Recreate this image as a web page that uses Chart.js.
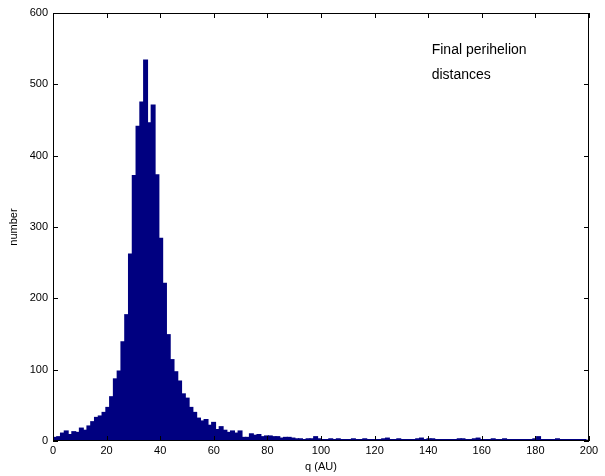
<!DOCTYPE html>
<html lang="en">
<head>
    <meta charset="UTF-8">
    <title>Final perihelion distances</title>
    <script src="https://cdn.jsdelivr.net/npm/chart.js"></script>
    <style>
        body { margin: 0; background: #fff; }
        #wrap { width: 605px; height: 476px; }
    </style>
</head>
<body>
<div id="wrap"><canvas id="histCanvas" width="605" height="476"></canvas></div>

<script>
    // histogram of final perihelion distance q (AU), bin width ~1.41 AU starting at 0
    const binWidth = 1.41;
    const counts = [
        5, 6, 11, 14, 9, 13, 12, 18, 15, 21,
        27, 33, 35, 40, 47, 62, 87, 98, 139, 177,
        262, 372, 441, 475, 534, 446, 471, 373, 284, 221,
        149, 114, 97, 84, 66, 60, 47, 40, 32, 28,
        30, 22, 26, 16, 20, 15, 12, 14, 11, 14,
        5, 5, 10, 8, 9, 6, 7, 7, 6, 6,
        4, 5, 5, 4, 3, 3, 2, 3, 3, 6,
        3, 2, 2, 3, 2, 3, 2, 2, 2, 3,
        2, 2, 3, 2, 2, 2, 2, 3, 4, 2,
        2, 3, 2, 2, 2, 2, 3, 4, 2, 3,
        3, 2, 2, 2, 2, 2, 2, 3, 3, 2,
        2, 3, 4, 2, 2, 2, 3, 2, 2, 3,
        2, 2, 2, 2, 2, 2, 2, 3, 6, 2,
        2, 2, 2, 3, 2, 2, 2, 2, 2, 2,
        2, 1
    ];
    const xTicks = [0, 20, 40, 60, 80, 100, 120, 140, 160, 180, 200];
    const yTicks = [0, 100, 200, 300, 400, 500, 600];
    const noteLines = ['Final perihelion', 'distances'];
    const notePos = [{ x: 141.3, y: 548 }, { x: 141.3, y: 513 }];

    const points = counts.map((c, i) => ({ x: (i + 0.5) * binWidth, y: c }));

    const fonte = "'Liberation Sans', Arial, sans-serif";

    // caixa completa e marcas de escala para dentro (estilo matlab)
    const boxPlugin = {
        id: 'boxPlugin',
        beforeDraw(chart) {
            const c = chart.ctx;
            c.save();
            c.fillStyle = '#fff';
            c.fillRect(0, 0, chart.width, chart.height);
            c.restore();
        },
        afterDraw(chart) {
            const c = chart.ctx;
            const a = chart.chartArea;
            const sx = chart.scales.x, sy = chart.scales.y;
            const tl = 5;
            c.save();
            c.strokeStyle = '#000';
            c.lineWidth = 1;
            c.strokeRect(Math.round(a.left) + 0.5, Math.round(a.top) + 0.5,
                Math.round(a.right - a.left) - 1, Math.round(a.bottom - a.top) - 1);
            c.beginPath();
            xTicks.forEach(v => {
                const px = Math.round(sx.getPixelForValue(v)) + 0.5;
                c.moveTo(px, a.bottom); c.lineTo(px, a.bottom - tl);
                c.moveTo(px, a.top); c.lineTo(px, a.top + tl);
            });
            yTicks.forEach(v => {
                const py = Math.round(sy.getPixelForValue(v)) + 0.5;
                c.moveTo(a.left, py); c.lineTo(a.left + tl, py);
                c.moveTo(a.right, py); c.lineTo(a.right - tl, py);
            });
            c.stroke();

            c.fillStyle = '#000';
            c.font = '14px ' + fonte;
            c.textBaseline = 'middle';
            c.textAlign = 'left';
            noteLines.forEach((t, i) => {
                c.fillText(t, sx.getPixelForValue(notePos[i].x), sy.getPixelForValue(notePos[i].y));
            });
            c.restore();
        }
    };

    const config = {
        type: 'bar',
        data: {
            datasets: [{
                label: 'number',
                data: points,
                backgroundColor: '#000080',
                borderWidth: 0,
                inflateAmount: 0.6,
                barPercentage: 1.0,
                categoryPercentage: 1.0
            }]
        },
        options: {
            responsive: false,
            animation: false,
            events: [],
            layout: { padding: { top: 13, right: 16, left: 0, bottom: 0 } },
            plugins: {
                legend: { display: false },
                tooltip: { enabled: false }
            },
            scales: {
                x: {
                    type: 'linear',
                    min: 0,
                    max: 200,
                    offset: false,
                    afterFit(scale) { scale.height = 35; },
                    afterBuildTicks(scale) { scale.ticks = xTicks.map(v => ({ value: v })); },
                    grid: { display: false, drawTicks: false },
                    border: { display: false },
                    ticks: { color: '#000', padding: 3, maxRotation: 0, font: { family: fonte, size: 11 } },
                    title: {
                        display: true,
                        text: 'q (AU)',
                        color: '#000',
                        padding: { top: 0, bottom: 2 },
                        font: { family: fonte, size: 11 }
                    }
                },
                y: {
                    min: 0,
                    max: 600,
                    afterFit(scale) { scale.width = 53; },
                    afterBuildTicks(scale) { scale.ticks = yTicks.map(v => ({ value: v })); },
                    grid: { display: false, drawTicks: false },
                    border: { display: false },
                    ticks: { color: '#000', padding: 5, font: { family: fonte, size: 11 } },
                    title: {
                        display: true,
                        text: 'number',
                        color: '#000',
                        padding: { top: 7, bottom: 0 },
                        font: { family: fonte, size: 11 }
                    }
                }
            }
        },
        plugins: [boxPlugin]
    };

    let myChart = new Chart(document.getElementById('histCanvas'), config);
</script>
</body>
</html>
